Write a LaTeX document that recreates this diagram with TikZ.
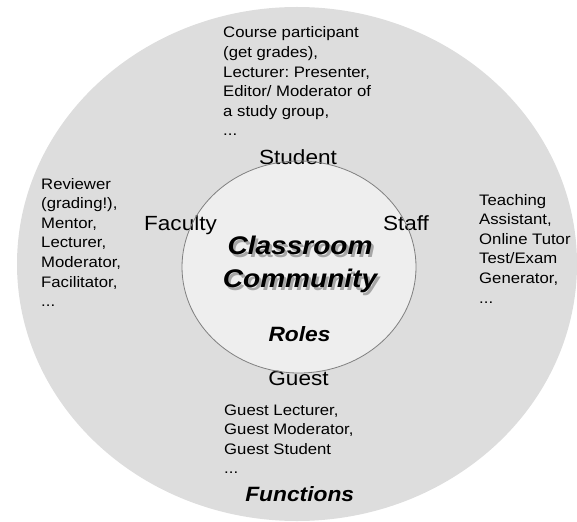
\documentclass[tikz,border=0pt]{standalone}
\usepackage{fontspec}
\setmainfont{Liberation Sans}
\frenchspacing
\definecolor{ringgray}{HTML}{DDDDDD}
\definecolor{hubgray}{HTML}{EEEEEE}
\definecolor{rimgray}{HTML}{808080}
\begin{document}
\begin{tikzpicture}[x=1pt,y=-1pt]
    \tikzstyle{role} = [inner sep=0pt,xscale=1.1,anchor=base,font=\fontsize{20.5}{24}\selectfont]
    \tikzstyle{duty} = [inner sep=0pt,xscale=1.1,anchor=base west,align=left,font=\fontsize{15.2}{19.6}\selectfont]
    \tikzstyle{title} = [inner sep=0pt,xscale=1.1,anchor=north,align=center,font=\fontsize{25.5}{33}\selectfont\bfseries\itshape]
    \tikzstyle{heading} = [inner sep=0pt,xscale=1.1,anchor=base,font=\fontsize{20.7}{24}\selectfont\bfseries\itshape]
        \useasboundingbox (0,0) rectangle (577,521);
        \fill[ringgray] (297,264) ellipse [x radius=280, y radius=257];
        \fill[hubgray] (299,267) ellipse [x radius=117, y radius=106];
        % functions of each role (placed at the baseline of the last line)
        \node[duty] (student duties) at (223,136) {Course participant\\(get grades),\\Lecturer: Presenter,\\Editor/ Moderator of\\a study group,\\...};
        \node[duty] (faculty duties) at (41,306.6) {Reviewer\\(grading!),\\Mentor,\\Lecturer,\\Moderator,\\Facilitator,\\...};
        \node[duty] (staff duties) at (479,303) {Teaching\\Assistant,\\Online Tutor\\Test/Exam\\Generator,\\...};
        \node[duty] (guest duties) at (224,473.8) {Guest Lecturer,\\Guest Moderator,\\Guest Student\\...};
        % roles
        \node[role] (student) at (298,165) {Student};
        \node[role] (faculty) at (180.5,230.7) {Faculty};
        \node[role] (staff) at (406,230.7) {Staff};
        \node[role] (guest) at (298.5,385) {Guest};
        \node[title,text=black!35] (community shadow) at (302.5,238.5) {Classroom\\Community};
        \node[title] (community) at (300,236) {Classroom\\Community};
        \node[heading] (roles) at (299.5,341.7) {Roles};
        \node[heading] (functions) at (299.7,501.7) {Functions};
        \draw[rimgray,line width=0.8pt] (299,267) ellipse [x radius=117, y radius=106];
    \end{tikzpicture}
\end{document}
